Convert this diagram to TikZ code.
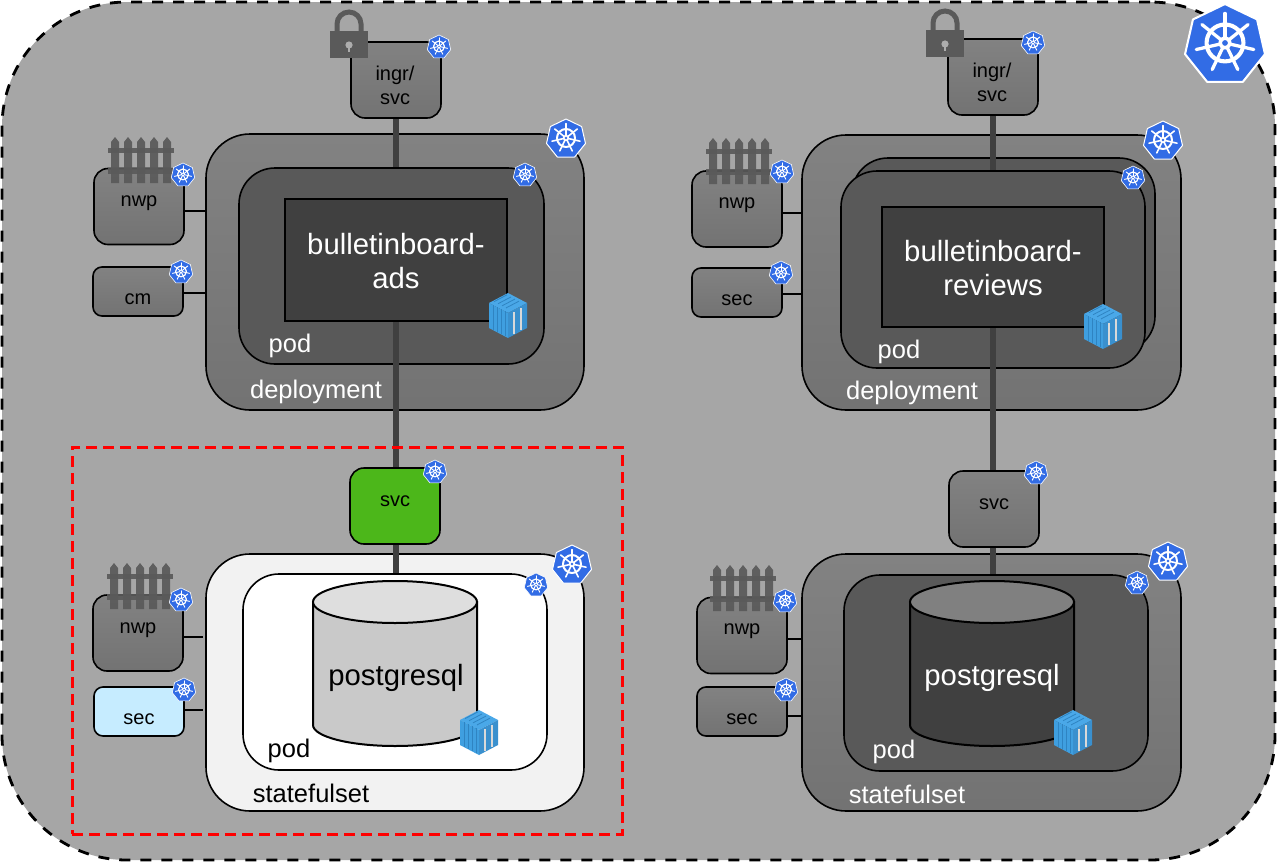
\documentclass[tikz,border=0pt]{standalone}
\usepackage{fontspec}
\setmainfont{Liberation Sans}
\usetikzlibrary{
		positioning
	}
\definecolor{kubeblue}{HTML}{326CE5}
\definecolor{backgray}{HTML}{A6A6A6}
\definecolor{iconfill}{HTML}{5A5A5A}
\definecolor{svcgreen}{HTML}{4CB71A}
\definecolor{secblue}{HTML}{C6ECFF}
\definecolor{cratetop}{HTML}{4AA8E8}
\definecolor{crateleft}{HTML}{3F9FE0}
\definecolor{crateright}{HTML}{3A90CE}
\definecolor{crateline}{HTML}{2F84C2}
\tikzset{
		outerbox/.style={draw=black, line width=1.6pt, rounded corners=44pt, inner sep=0pt},
		grayshade/.style={top color=black!49, bottom color=black!55},
		podbox/.style={draw=black, line width=1.6pt, rounded corners=36pt, fill=#1, inner sep=0pt},
		appbox/.style={draw=black, line width=2.6pt, fill=black!75, inner sep=0pt, minimum width=222pt},
		smallbox/.style={draw=black, line width=1.6pt, rounded corners=14pt, grayshade, inner sep=0pt, minimum width=90pt, minimum height=76pt},
		tinybox/.style={draw=black, line width=1.6pt, rounded corners=9pt, grayshade, inner sep=0pt, minimum width=90pt, minimum height=49pt},
		dbline/.style={draw=black, line width=2pt},
		mainlink/.style={draw=black!75, line width=6pt},
		sidelink/.style={draw=black, line width=1.6pt},
		smalltxt/.style={font=\fontsize{20}{24}\selectfont, align=center, text=black},
		kindtxt/.style={font=\fontsize{25.5}{30}\selectfont, text=white},
		apptxt/.style={font=\fontsize{29.3}{33.5}\selectfont, align=center, text=white}
	}
% hub badge: x, y, radius
\newcommand{\kubeicon}[3]{
	\begin{scope}[shift={(#1,#2)}, line join=round]
		\draw[white, line width=#3*0.05pt, fill=kubeblue] (-90:#3) -- (-141.43:#3) -- (-192.86:#3) -- (-244.29:#3) -- (-295.71:#3) -- (-347.14:#3) -- (-38.57:#3) -- cycle;
		\draw[white, line width=#3*0.1pt] (0,-#3*0.05) circle[radius=#3*0.45];
		\foreach \a in {-90,-141.43,-192.86,-244.29,-295.71,-347.14,-38.57}
			\draw[white, line width=#3*0.08pt, line cap=round] (0,-#3*0.05) -- ++(\a:#3*0.72);
		\fill[white] (0,-#3*0.05) circle[radius=#3*0.16];
		\fill[kubeblue] (0,-#3*0.05) circle[radius=#3*0.07];
	\end{scope}
}
% container: x, y of the middle corner
\newcommand{\crateicon}[2]{
	\begin{scope}[shift={(#1,#2)}]
		\fill[cratetop] (0,-20) -- (19,-10) -- (0,0) -- (-19,-10) -- cycle;
		\fill[crateleft] (-19,-10) -- (0,0) -- (0,25) -- (-19,15) -- cycle;
		\fill[crateright] (19,-10) -- (0,0) -- (0,25) -- (19,15) -- cycle;
		\foreach \d in {-15,-11,-7,-3}
			\draw[crateline, line width=0.8pt] (\d,{-10+(\d+19)*0.526}) -- ++(0,25);
		\foreach \d in {-14,-10,-6,-2}
			\draw[crateline, line width=0.8pt] (\d,{-10+(\d+19)*0.526-4}) -- ++(13,-6.8);
		\draw[black!15, line width=1.2pt] (6,-1) -- ++(0,22);
		\draw[black!15, line width=1.2pt] (13,-5) -- ++(0,22);
	\end{scope}
}
% fence: centre x, centre y
\newcommand{\fenceicon}[2]{
	\begin{scope}[shift={(#1,#2)}, opacity=0.92]
		\foreach \d in {-26,-13,0,13,26}
			\fill[iconfill] (\d-4,23) -- (\d-4,-18) -- (\d,-23) -- (\d+4,-18) -- (\d+4,23) -- cycle;
		\fill[iconfill] (-33,-12) rectangle (33,-7);
		\fill[iconfill] (-33,8) rectangle (33,14);
	\end{scope}
}
% lock: centre x, top y
\newcommand{\lockicon}[2]{
	\begin{scope}[shift={(#1,#2)}]
		\draw[iconfill, line width=5pt] (-12,24) -- (-12,15) arc[start angle=180, end angle=360, radius=12] -- (12,24);
		\fill[iconfill] (-19,22) -- (19,22) -- (19,49) -- (-19,49) -- cycle;
		\fill[black!32] (0,36) circle[radius=3.6];
		\fill[black!32] (-1.4,36) -- (1.4,36) -- (1.4,43) -- (-1.4,43) -- cycle;
	\end{scope}
}
% database drum: x, body colour, lid colour
\newcommand{\dbdrum}[3]{
	\draw[dbline, fill=#2] (#1-82,602) -- (#1-82,725) arc[x radius=82, y radius=21, start angle=180, end angle=0] -- (#1+82,602) -- cycle;
	\draw[dbline, fill=#3] (#1,602) ellipse[x radius=82, y radius=21];
}

\begin{document}
\begin{tikzpicture}[x=1pt, y=-1pt]
	\useasboundingbox (0,0) rectangle (1277,862);
	\node[draw=black, line width=2.8pt, dash pattern=on 11pt off 10pt, rounded corners=125pt, fill=backgray, inner sep=0pt, minimum width=1273pt, minimum height=858pt] (cluster) at (638.5,431) {};

	% left side, top
	\node[smallbox] (ingrA) at (396,80) {};
	\node[outerbox, grayshade, minimum width=378pt, minimum height=276pt] (deployA) at (395,272) {};
	\node[podbox=black!65, minimum width=305pt, minimum height=196pt] (podA) at (391.5,266) {};
	\node[appbox, minimum height=122pt] (appA) at (396,260) {};
	\node[smallbox] (nwpA) at (139,206.5) {};
	\node[tinybox] (cmA) at (138,291.5) {};
	\draw[sidelink] (nwpA.east |- 0,211) -- (deployA.west |- 0,211);
	\draw[sidelink] (cmA.east |- 0,293) -- (deployA.west |- 0,293);
	\draw[mainlink] (ingrA.south) -- (ingrA.south |- podA.north);

	% left side, bottom
	\node[smallbox, top color=svcgreen, bottom color=svcgreen] (svcA) at (395,506) {};
	\node[outerbox, fill=black!5, minimum width=378pt, minimum height=257pt] (stateA) at (395,682.5) {};
	\node[podbox=white, minimum width=304pt, minimum height=196pt] (podB) at (395,672) {};
	\dbdrum{395}{black!21}{black!13}
	\node[smallbox] (nwpB) at (138,633) {};
	\node[tinybox, top color=secblue, bottom color=secblue] (secA) at (139,711.5) {};
	\draw[sidelink] (nwpB.east |- 0,637) -- ([xshift=-2pt]stateA.west |- 0,637);
	\draw[sidelink] (secA.east |- 0,710) -- ([xshift=-2pt]stateA.west |- 0,710);
	\draw[mainlink] (appA.south) -- (appA.south |- svcA.north);
	\draw[mainlink] (appA.south |- svcA.south) -- (appA.south |- podB.north);

	% right side, top
	\node[smallbox] (ingrB) at (993,77) {};
	\node[outerbox, grayshade, minimum width=379pt, minimum height=275pt] (deployB) at (991.5,272.5) {};
	\node[podbox=black!65, minimum width=303pt, minimum height=194pt] (podCback) at (1003.5,255) {};
	\node[podbox=black!65, minimum width=304pt, minimum height=197pt] (podC) at (993,269.5) {};
	\node[appbox, minimum height=120pt] (appB) at (993,267) {};
	\node[smallbox] (nwpC) at (737,209) {};
	\node[tinybox] (secB) at (737,292.5) {};
	\draw[sidelink] (nwpC.east |- 0,213) -- (deployB.west |- 0,213);
	\draw[sidelink] (secB.east |- 0,294) -- (deployB.west |- 0,294);
	\draw[mainlink] (ingrB.south) -- (ingrB.south |- podC.north);

	% right side, bottom
	\node[smallbox] (svcB) at (994,509) {};
	\node[outerbox, grayshade, minimum width=379pt, minimum height=257pt] (stateB) at (991.5,682.5) {};
	\node[podbox=black!65, minimum width=304pt, minimum height=196pt] (podD) at (996,673) {};
	\dbdrum{992}{black!75}{black!50}
	\node[smallbox] (nwpD) at (742,635.5) {};
	\node[tinybox] (secC) at (742,711.5) {};
	\draw[sidelink] (nwpD.east |- 0,639) -- (stateB.west |- 0,639);
	\draw[sidelink] (secC.east |- 0,716) -- (stateB.west |- 0,716);
	\draw[mainlink] (appB.south) -- (appB.south |- svcB.north);
	\draw[mainlink] (appB.south |- svcB.south) -- (appB.south |- podD.north);

	% selection
	\node[draw=red, line width=3pt, dash pattern=on 11pt off 6pt, inner sep=0pt, minimum width=550pt, minimum height=387pt] (selected) at (347,640.5) {};

	% icons
	\lockicon{349}{9} \lockicon{945}{8}
	\fenceicon{141}{160} \fenceicon{739}{161} \fenceicon{140}{586} \fenceicon{743}{588}
	\kubeicon{439}{47}{12} \kubeicon{1033}{43}{12}
	\kubeicon{566}{139}{20} \kubeicon{1163}{141}{20} \kubeicon{572}{565}{20} \kubeicon{1168}{562}{20}
	\kubeicon{525}{175}{12} \kubeicon{1133}{178}{12} \kubeicon{536}{585}{12} \kubeicon{1137}{583}{12}
	\kubeicon{183}{175}{12} \kubeicon{181}{272}{12} \kubeicon{782}{172}{12} \kubeicon{781}{273}{12}
	\kubeicon{181}{600}{12} \kubeicon{184}{690}{12} \kubeicon{785}{601}{12} \kubeicon{786}{690}{12}
	\kubeicon{435}{472}{12} \kubeicon{1036}{473}{12}
	\kubeicon{1225}{45}{41}
	\crateicon{508}{313} \crateicon{1103}{324} \crateicon{479}{730} \crateicon{1073}{730}

	% labels
	\node[smalltxt] (ingrAtxt) at (395,85) {ingr/\\svc};
	\node[smalltxt] (nwpAtxt) at (139,203) {nwp};
	\node[smalltxt] (cmAtxt) at (138,299) {cm};
	\node[apptxt] (appAtxt) at (396,261) {bulletinboard-\\ads};
	\node[kindtxt] (podAtxt) at (290,346) {pod};
	\node[kindtxt] (deployAtxt) at (316,392) {deployment};
	\node[smalltxt] (svcAtxt) at (395,501) {svc};
	\node[smalltxt] (nwpBtxt) at (138,630) {nwp};
	\node[smalltxt] (secAtxt) at (139,719) {sec};
	\node[apptxt, text=black] (dbAtxt) at (396,678) {postgresql};
	\node[kindtxt, text=black] (podBtxt) at (289,751) {pod};
	\node[kindtxt, text=black] (stateAtxt) at (311,793) {statefulset};
	\node[smalltxt] (ingrBtxt) at (992,82) {ingr/\\svc};
	\node[smalltxt] (nwpCtxt) at (737,205) {nwp};
	\node[smalltxt] (secBtxt) at (737,300) {sec};
	\node[apptxt] (appBtxt) at (993,268) {bulletinboard-\\reviews};
	\node[kindtxt] (podCtxt) at (899,352) {pod};
	\node[kindtxt] (deployBtxt) at (912,393) {deployment};
	\node[smalltxt] (svcBtxt) at (994,504) {svc};
	\node[smalltxt] (nwpDtxt) at (742,631) {nwp};
	\node[smalltxt] (secCtxt) at (742,719) {sec};
	\node[apptxt] (dbBtxt) at (992,678) {postgresql};
	\node[kindtxt] (podDtxt) at (894,752) {pod};
	\node[kindtxt] (stateBtxt) at (907,794) {statefulset};
\end{tikzpicture}
\end{document}
